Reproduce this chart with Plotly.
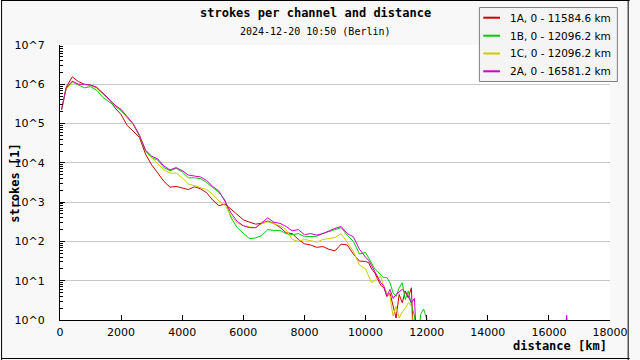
import plotly.graph_objects as go

# distance bins [km]
distance_km = [50] + list(range(200, 10000, 200)) + list(range(10000, 12200, 100))

# log10(strokes); -1 means "no strokes" (below the axis)
log_strokes_1A = [
    5.35, 5.92, 6.19, 6.07, 6.0, 5.98, 5.92, 5.77, 5.63, 5.4,
    5.23, 4.95, 4.81, 4.65, 4.22, 3.95, 3.74, 3.53, 3.38, 3.4,
    3.36, 3.32, 3.39, 3.34, 3.24, 3.05, 2.91, 2.95, 2.82, 2.69,
    2.55, 2.49, 2.44, 2.46, 2.52, 2.46, 2.36, 2.22, 2.2, 2.05,
    1.94, 1.91, 1.85, 1.87, 1.8, 1.76, 1.93, 1.91, 1.68, 1.5,
    1.49, 1.46, 1.3, 1.2, 1.05, 0.88, 0.82, 0.6, 0.68, 0.35,
    0.05, 0.65, 0.44, 0.74, 0.56, 0.82, -1, -1, -1, -1, -1, -1]
log_strokes_1B = [
    5.35, 5.88, 6.06, 5.98, 5.91, 5.94, 5.85, 5.67, 5.56, 5.46,
    5.33, 5.15, 4.97, 4.68, 4.3, 4.13, 4.07, 3.88, 3.8, 3.86,
    3.77, 3.62, 3.62, 3.6, 3.5, 3.37, 3.25, 3.05, 2.6, 2.35,
    2.2, 2.07, 2.09, 2.15, 2.3, 2.28, 2.28, 2.2, 2.17, 2.2,
    2.12, 2.12, 2.13, 2.2, 2.25, 2.3, 2.35, 2.16, 2.0, 1.68,
    1.72, 1.58, 1.43, 1.3, 1.22, 1.14, 1.08, 1.08, 0.95, 0.69,
    0.6, 0.82, 0.95, 0.52, 0.74, 0.39, 0.1, -1, 0.14, 0.28, 0.03, -1]
log_strokes_1C = [
    5.35, 5.88, 6.06, 6.0, 6.0, 5.97, 5.9, 5.76, 5.62, 5.46,
    5.35, 5.15, 4.98, 4.72, 4.32, 4.14, 3.98, 3.82, 3.74, 3.74,
    3.62, 3.46, 3.42, 3.37, 3.32, 3.2, 3.03, 2.92, 2.65, 2.47,
    2.4, 2.37, 2.35, 2.45, 2.5, 2.45, 2.4, 2.3, 2.05, 2.0,
    2.05, 2.02, 1.98, 2.05, 2.08, 2.1, 2.2, 1.97, 1.75, 1.4,
    1.3, 1.12, 0.95, 1.0, 1.08, 1.1, 0.85, 0.7, 0.6, 0.1,
    0.35, 0.05, 0.2, 0.3, 0.44, 0.35, -1, -1, -1, -1, 0.05, -1]
log_strokes_2A = [
    5.35, 5.9, 6.08, 6.0, 6.0, 5.98, 5.92, 5.77, 5.63, 5.47,
    5.36, 5.17, 4.99, 4.7, 4.32, 4.17, 4.1, 3.92, 3.82, 3.88,
    3.8, 3.69, 3.67, 3.64, 3.55, 3.4, 3.28, 3.02, 2.72, 2.51,
    2.4, 2.35, 2.35, 2.47, 2.6, 2.49, 2.46, 2.38, 2.27, 2.3,
    2.17, 2.2, 2.16, 2.2, 2.27, 2.33, 2.38, 2.2, 2.12, 1.8,
    1.6, 1.52, 1.38, 1.23, 1.1, 0.95, 0.86, 0.6, 0.78, 0.55,
    0.65, 0.72, 0.78, 0.7, 0.6, 0.44, 0.55, -1, -1, -1, -1, -1]
# isolated far bin of channel 2A
far_km_2A = [16450, 16581.2, 16700]
far_log_2A = [-1, 0.12, -1]

names = ["1A, 0 - 11584.6 km", "1B, 0 - 12096.2 km",
         "1C, 0 - 12096.2 km", "2A, 0 - 16581.2 km"]
colors = ["#cc0000", "#00cc00", "#cccc00", "#cc00cc"]
series = [log_strokes_1A, log_strokes_1B, log_strokes_1C,
          log_strokes_2A]

y_tick_vals = [1, 10, 100, 1000, 10000, 100000, 1000000, 10000000]
y_tick_text = ["10^0", "10^1", "10^2", "10^3", "10^4", "10^5", "10^6", "10^7"]
x_tick_vals = list(range(0, 18001, 2000))

fig = go.Figure()
for name, col, logs in zip(names, colors, series):
    x = list(distance_km)
    y = [10 ** v for v in logs]
    if name.startswith("2A"):
        x = x + far_km_2A
        y = y + [10 ** v for v in far_log_2A]
    fig.add_trace(go.Scatter(x=x, y=y, mode="lines", name=name,
                             showlegend=False,
                             line=dict(color=col, width=1)))

minor_vals = [m * 10 ** e for e in range(0, 7) for m in range(2, 10)]

W, H = 640, 360
L, R, T, B = 60, 20, 45, 40
pw, ph = W - L - R, H - T - B


def px(xp):
    return (xp - L) / pw


def py(yp):
    return (H - B - yp) / ph


mono = "DejaVu Sans Mono"
sans = "DejaVu Sans"

annotations = [
    dict(text="<b>strokes per channel and distance</b>", xref="paper",
         yref="paper", x=px(320), y=py(13), xanchor="center",
         yanchor="middle", showarrow=False,
         font=dict(family=mono, size=12, color="#000000")),
    dict(text="2024-12-20 10:50 (Berlin)", xref="paper",
         yref="paper", x=px(320), y=py(32), xanchor="center",
         yanchor="middle", showarrow=False,
         font=dict(family=mono, size=10, color="#000000")),
    dict(text="<b>distance [km]</b>", xref="paper", yref="paper",
         x=px(619), y=py(346), xanchor="right", yanchor="middle",
         showarrow=False,
         font=dict(family=mono, size=12, color="#000000")),
    dict(text="<b>strokes [1]</b>", xref="paper", yref="paper",
         x=px(14), y=py(183), xanchor="center", yanchor="middle",
         textangle=-90, showarrow=False,
         font=dict(family=mono, size=12, color="#000000")),
]

fl, ft, frr, fb = 0.5, 0.5, 638.5, 358.5
frame = dict(color="#000000", width=1)
shapes = [
    # outer frame
    dict(type="line", xref="paper", yref="paper", x0=px(0), x1=px(640),
         y0=py(ft), y1=py(ft), line=frame, layer="above"),
    dict(type="line", xref="paper", yref="paper", x0=px(0), x1=px(640),
         y0=py(fb), y1=py(fb), line=frame, layer="above"),
    dict(type="line", xref="paper", yref="paper", x0=px(fl), x1=px(fl),
         y0=py(0), y1=py(360), line=frame, layer="above"),
    dict(type="line", xref="paper", yref="paper", x0=px(frr), x1=px(frr),
         y0=py(0), y1=py(360), line=frame, layer="above"),
    # legend box
    dict(type="rect", xref="paper", yref="paper",
         x0=px(487), x1=px(627.5), y0=py(81.5), y1=py(7.5),
         fillcolor="#f4f4f4", line=dict(color="#808080", width=1),
         layer="above"),
]

legend_rows = [17.7, 35.7, 53.5, 71.3]
for name, col, ry in zip(names, colors, legend_rows):
    shapes.append(dict(type="line", xref="paper", yref="paper",
                       x0=px(491), x1=px(508), y0=py(ry), y1=py(ry),
                       line=dict(color=col, width=2), layer="above"))
    annotations.append(dict(text=name, xref="paper", yref="paper",
                            x=px(516), y=py(ry), xanchor="left",
                            yanchor="middle", showarrow=False,
                            font=dict(family=sans, size=10.5,
                                      color="#000000")))

fig.update_layout(
    width=W, height=H,
    margin=dict(l=L, r=R, t=T, b=B, pad=0),
    paper_bgcolor="#f8f8f8",
    plot_bgcolor="#ffffff",
    showlegend=False,
    xaxis=dict(range=[0, 18000], tickvals=x_tick_vals,
               ticktext=[str(v) for v in x_tick_vals],
               showgrid=False, zeroline=False,
               showline=True, linecolor="#000000", linewidth=1,
               ticks="inside", ticklen=5, tickcolor="#000000",
               tickfont=dict(family=sans, size=11, color="#000000"),
               ticklabelstandoff=2),
    yaxis=dict(type="log", range=[0, 7], tickvals=y_tick_vals,
               ticktext=y_tick_text,
               showgrid=True, gridcolor="#c8c8c8", gridwidth=1,
               zeroline=False,
               showline=True, linecolor="#000000", linewidth=1,
               ticks="inside", ticklen=5, tickcolor="#000000",
               tickfont=dict(family=sans, size=11, color="#000000"),
               ticklabelstandoff=12,
               minor=dict(tickvals=minor_vals, ticks="inside", ticklen=3,
                          tickcolor="#000000", showgrid=False)),
    annotations=annotations,
    shapes=shapes,
)

post = (
    "document.documentElement.style.overflow='hidden';"
    "document.body.style.margin='0px';"
    "document.body.style.padding='0px';"
    "document.body.style.overflow='hidden';"
)

fig.write_html("out.html",
               config={"displayModeBar": False, "staticPlot": True},
               post_script=post)
